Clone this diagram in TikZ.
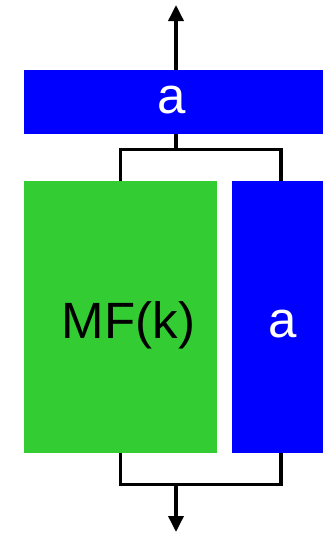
\documentclass[tikz,border=0pt]{standalone}
\usepackage{fontspec}
\setmainfont{Liberation Sans}
\usetikzlibrary{arrows.meta}
\definecolor{boxblue}{RGB}{0,0,255}
\definecolor{mfgreen}{RGB}{51,204,51}

\begin{document}
\begin{tikzpicture}[x=1pt,y=-1pt,
 every node/.style={inner sep=0pt,outer sep=0pt},
 lbl/.style={font={\fontsize{51}{60}\selectfont},anchor=base},
 wire/.style={line width=3.5pt},
 flow/.style={wire,-{Triangle[width=15pt,length=16pt]}}]
\useasboundingbox (0,0) rectangle (323,533);
\node[fill=boxblue,minimum width=304pt,minimum height=64pt] (ablk) at (176,101.5) {};
\node[lbl,text=white] (atext) at (171.5,113) {a};
\node[fill=mfgreen,minimum width=193pt,minimum height=272pt] (mfblk) at (120.5,317) {};
\node[lbl] (mftext) at (128.5,338) {MF(k)};
\node[fill=boxblue,minimum width=98pt,minimum height=272pt] (sideblk) at (281,317) {};
\node[lbl,text=white] (sidetext) at (282.5,337) {a};
\coordinate (out) at (176,5);
\coordinate (in) at (176,532);
\coordinate (jup) at (176,149.5);
\coordinate (jdn) at (176,484.5);
\draw[flow] (ablk.north) -- (out);
\draw[wire] (ablk.south) -- (jup);
\draw[wire] (mfblk.north) |- (jup) -| (sideblk.north);
\draw[wire] (mfblk.south) |- (jdn) -| (sideblk.south);
\draw[flow] (jdn) -- (in);
\end{tikzpicture}
\end{document}
